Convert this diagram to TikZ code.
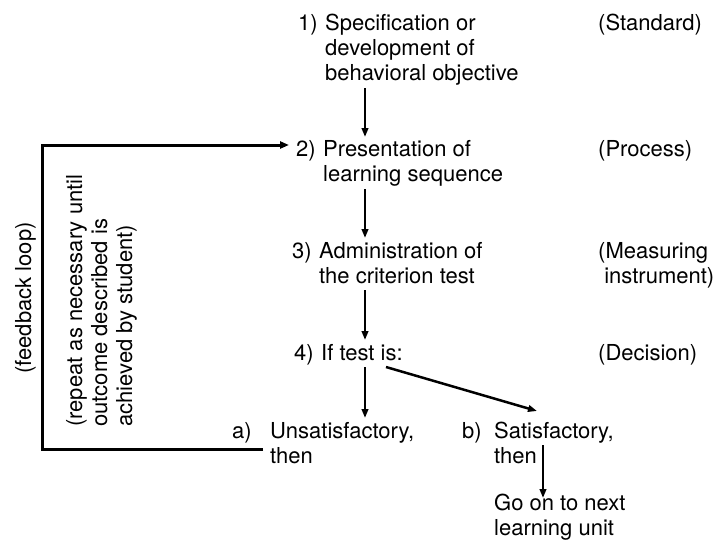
\documentclass[tikz,border=0pt]{standalone}
\usepackage{fontspec}
\setmainfont{TeX Gyre Heros}
\usetikzlibrary{arrows.meta}
\begin{document}
\begin{tikzpicture}[x=1pt,y=-1pt,
  txt/.style={anchor=base west,inner sep=0pt,align=left,font=\fontsize{22}{25}\selectfont},
  rtxt/.style={txt,rotate=90},
  arr/.style={line width=2.5pt,-{Triangle[length=9pt,width=6.5pt]}},
  loop/.style={line width=3pt,-{Triangle[length=9pt,width=7pt]}}]
\useasboundingbox (0,0) rectangle (718,547);
% step 1 (multi-line nodes are placed by the baseline of their last line)
\node[txt] (n1) at (298,30) {1)};
\node[txt] (t1) at (325,80) {Specification or\\development of\\behavioral objective};
\node[txt] (r1) at (598,30) {(Standard)};
% step 2
\node[txt] (n2) at (296,156) {2)};
\node[txt] (t2) at (323,181) {Presentation of\\learning sequence};
\node[txt] (r2) at (598,156) {(Process)};
% step 3
\node[txt] (n3) at (292,258) {3)};
\node[txt] (t3) at (319,283) {Administration of\\the criterion test};
\node[txt] (r3) at (598,283) {(Measuring\\\ instrument)};
% step 4
\node[txt] (n4) at (294,360) {4)};
\node[txt] (t4) at (321,360) {If test is:};
\node[txt] (r4) at (598,360) {(Decision)};
% outcomes
\node[txt] (na) at (232,438) {a)};
\node[txt] (ta) at (270,463) {Unsatisfactory,\\then};
\node[txt] (nb) at (462,438) {b)};
\node[txt] (tb) at (494,463) {Satisfactory,\\then};
\node[txt] (tc) at (494,535) {Go on to next\\learning unit};
% rotated labels
\node[rtxt,anchor=base] (fb) at (31,298) {(feedback loop)};
\node[rtxt] (rep) at (132,427) {(repeat as necessary until\\outcome described is\\achieved by student)};
% coordinates
\coordinate (a1s) at (365,88);
\coordinate (a1e) at (365,137);
\coordinate (a2s) at (365,189);
\coordinate (a2e) at (365,238);
\coordinate (a3s) at (365,290);
\coordinate (a3e) at (365,340);
\coordinate (a4s) at (365,367);
\coordinate (a4e) at (365,418);
\coordinate (b4s) at (386,367);
\coordinate (b4e) at (537,411);
\coordinate (bcs) at (543,445);
\coordinate (bce) at (543,498);
\coordinate (fbr) at (263,449);
\coordinate (fbbl) at (42,449);
\coordinate (fbtl) at (42,145);
\coordinate (fbe) at (289,145);
\draw[arr] (a1s) -- (a1e);
\draw[arr] (a2s) -- (a2e);
\draw[arr] (a3s) -- (a3e);
\draw[arr] (a4s) -- (a4e);
\draw[arr] (b4s) -- (b4e);
\draw[arr] (bcs) -- (bce);
\draw[loop] (fbr) -- (fbbl) -- (fbtl) -- (fbe);
\end{tikzpicture}
\end{document}
